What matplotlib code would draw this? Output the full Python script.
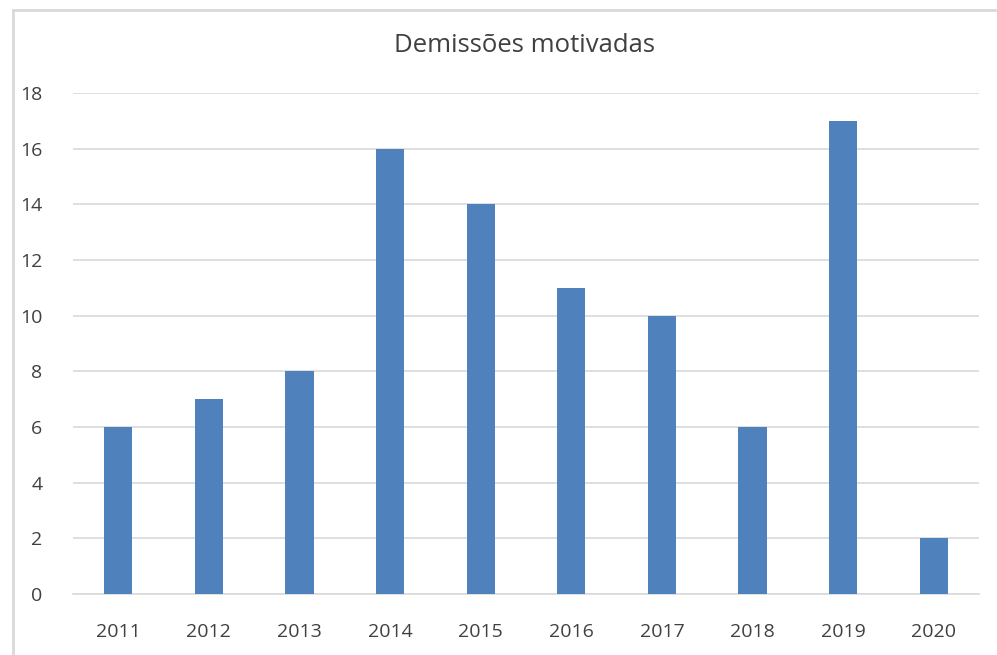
import matplotlib
matplotlib.use("Agg")
import matplotlib.pyplot as plt
from matplotlib.lines import Line2D

years = ["2011", "2012", "2013", "2014", "2015", "2016", "2017", "2018", "2019", "2020"]
values = [6, 7, 8, 16, 14, 11, 10, 6, 17, 2]
yticks = [0, 2, 4, 6, 8, 10, 12, 14, 16, 18]

W, H = 997, 655
fig = plt.figure(figsize=(W/100, H/100), dpi=100)
plt.rcParams['font.family'] = ['Open Sans', 'DejaVu Sans']

ax = fig.add_axes([73/W, 1-594/H, (979-73)/W, (594-93)/H])
x = range(len(years))
ax.bar(x, values, width=0.31, color="#4F81BD", zorder=3)
ax.set_xlim(-0.5, len(years)-0.5)
ax.set_ylim(0, 18)
ax.set_yticks(yticks)
ax.set_xticks(list(x))
ax.set_xticklabels(years)
for s in ["top", "right", "left"]:
    ax.spines[s].set_visible(False)
ax.spines["bottom"].set_color("#D9D9D9")
ax.spines["bottom"].set_linewidth(1.2)
ax.yaxis.grid(True, color="#D9D9D9", linewidth=1.2, zorder=0)
ax.tick_params(axis="both", length=0, labelsize=14, colors="#404040")
ax.tick_params(axis="y", pad=22)
ax.tick_params(axis="x", pad=21)
ax.set_axisbelow(True)

fig.text(524/W, 1-45/H, "Demissões motivadas", ha="center", va="center", fontsize=18.5, color="#404040")

# outer frame (left and top)
fig.add_artist(Line2D([13/W, 13/W], [0, 1-10/H], color="#D9D9D9", linewidth=2, transform=fig.transFigure))
fig.add_artist(Line2D([13/W, 1], [1-10/H, 1-10/H], color="#D9D9D9", linewidth=2, transform=fig.transFigure))

fig.savefig("out.png", dpi=100)
